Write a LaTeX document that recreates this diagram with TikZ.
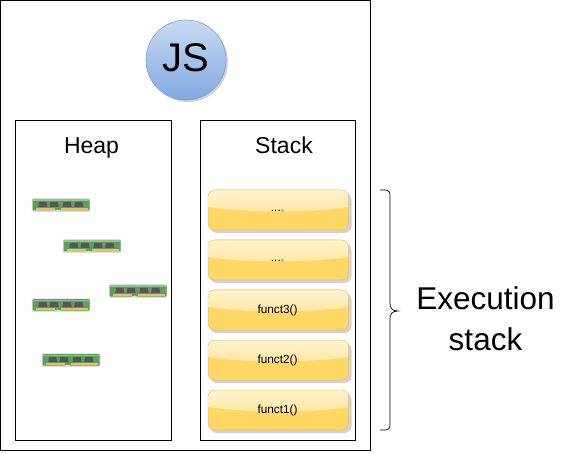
\documentclass[tikz,border=0pt]{standalone}
\usepackage{fontspec}
\setmainfont{Liberation Sans}
\definecolor{cardbase}{HTML}{FFD766}
\definecolor{cardtop}{HTML}{FFF4D2}
\definecolor{cardmid}{HTML}{FFE69E}
\definecolor{cardedge}{HTML}{E6BE5A}
\definecolor{chipgreen}{HTML}{5F9E58}
\definecolor{chipdark}{HTML}{55555C}
\definecolor{chipgold}{HTML}{E8C060}
\definecolor{shadowgrey}{HTML}{D2D2D2}
\definecolor{jstop}{HTML}{C8DBF3}
\definecolor{jsbottom}{HTML}{82A8E0}
\definecolor{jsedge}{HTML}{7F9FCF}
\tikzset{
  x=1pt,y=-1pt,
  panel/.style={draw=black,line width=1pt,fill=white},
  paneltitle/.style={font=\fontsize{23}{28}\selectfont,anchor=base},
  cardlabel/.style={font=\fontsize{11.8}{14}\selectfont,anchor=center,inner sep=0pt},
  cardbody/.style={fill=cardbase,draw=cardedge,line width=.5pt,rounded corners=7pt},
  cardshadow/.style={fill=shadowgrey,rounded corners=7pt},
}
\newcommand{\stackcard}[4]{%
  \fill[cardshadow] (210,#1+3) rectangle (351.5,#1+43);
  \path[cardbody] (208,#1) rectangle (348.5,#1+40);
  \begin{scope}
    \clip[rounded corners=7pt] (208.3,#1+.3) rectangle (348.2,#1+39.7);
    \shade[top color=cardtop,bottom color=cardmid]
      (208,#1) -- (349,#1) -- (349,#1+17) .. controls (310,#1+23) and (247,#1+23) .. (208,#1+17) -- cycle;
  \end{scope}
  \node[cardlabel] (#2) at (277.5,#1+#4) {#3};
}
\newcommand{\ramchip}[2]{%
  \begin{scope}[shift={(#1-0.5,#2)}]
    \fill[black!12,rounded corners=1pt] (-.7,-.7) rectangle (57.7,13);
    \fill[chipgreen,rounded corners=1pt] (0,0) -- (57,0) -- (57,11.5) -- (27,11.5) -- (26,10.5) -- (24,10.5) -- (23,11.5) -- (0,11.5) -- cycle;
    \fill[chipgreen!65!white] (0.5,0.5) rectangle (56.5,1.6);
    \foreach \cx in {5.7,17,30,41.7}{
      \fill[chipdark] (\cx+.8,3) -- (\cx+8.2,3) -- (\cx+9.2,8) -- (\cx,8) -- cycle;
    }
    \fill[chipgold] (3,8.7) rectangle (22,10.7);
    \fill[chipgold] (28,8.7) rectangle (55,10.7);
  \end{scope}
}
\begin{document}
\begin{tikzpicture}
\useasboundingbox (0,0) rectangle (562,454);
\path[panel] (0.5,0.5) rectangle (370,450);
\path[panel] (15.5,120.5) rectangle (171,440);
\path[panel] (200.5,120.5) rectangle (355,440);
\node[paneltitle] (heap) at (91.5,154) {Heap};
\node[paneltitle] (stack) at (284,154) {Stack};
\fill[shadowgrey] (188,62) circle (40);
\shade[top color=jstop,bottom color=jsbottom,draw=jsedge,line width=.6pt] (186,60) circle (40);
\node[font=\fontsize{40}{46}\selectfont,inner sep=0pt] (js) at (185.5,58) {JS};
\ramchip{33}{199}
\ramchip{64}{240}
\ramchip{110}{285}
\ramchip{33}{299}
\ramchip{43}{354}
\stackcard{190}{c5}{....}{21.3}
\stackcard{240}{c4}{....}{21.3}
\stackcard{290}{c3}{funct3()}{20}
\stackcard{340}{c2}{funct2()}{20}
\stackcard{390}{c1}{funct1()}{20}
\coordinate (bt) at (380,190);
\coordinate (bb) at (380,430);
\draw[line width=.7pt] (bt) -- ++(5,0) .. controls (389,190) and (390,192) .. (390,196)
  -- (390,303) .. controls (390,308) and (392,311) .. (398,311)
  .. controls (392,311) and (390,314) .. (390,319)
  -- (390,424) .. controls (390,428) and (389,430) .. (385,430) -- (bb);
\node[font=\fontsize{31.5}{41}\selectfont,align=center,inner sep=0pt] (exec) at (485.5,319) {Execution\\stack};
\end{tikzpicture}
\end{document}
